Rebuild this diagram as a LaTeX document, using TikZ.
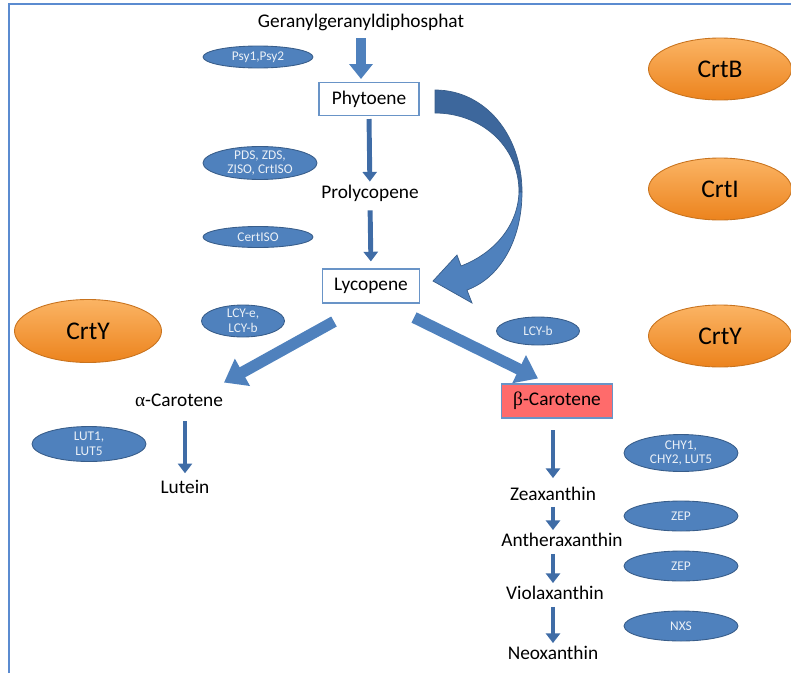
\documentclass[tikz,border=0pt]{standalone}
\usepackage{fontspec}
\setmainfont{Carlito}
\newfontfamily\greekfont{Liberation Serif}
\usetikzlibrary{shapes.geometric, arrows.meta, positioning, calc}
\definecolor{Path_Blue}{HTML}{4F81BD}
\definecolor{Path_Dark}{HTML}{385D8A}
\definecolor{Path_Back}{HTML}{3D679C}
\definecolor{Path_Arrow}{HTML}{3F6CA6}
\definecolor{Path_Frame}{HTML}{5B8BD0}
\definecolor{Path_Red}{HTML}{FF6B6B}
\definecolor{Crt_Top}{HTML}{FBB464}
\definecolor{Crt_Bottom}{HTML}{EC831D}
\definecolor{Crt_Line}{HTML}{C8731E}

\begin{document}
\begin{tikzpicture}[x=0.02cm, y=-0.02cm, >=Stealth,
    metab/.style={font=\fontsize{11}{13}\selectfont, inner sep=1pt},
    metabox/.style={metab, draw=Path_Blue!85, line width=0.6pt, minimum width=2cm, minimum height=0.66cm},
    enzyme/.style={ellipse, draw=Path_Dark, line width=0.5pt, fill=Path_Blue, text=white!88!Path_Blue, font=\fontsize{7.6}{8.4}\selectfont, align=center, inner sep=-1.5pt, minimum width=2.28cm, minimum height=0.6cm},
    crt/.style={ellipse, draw=Crt_Line, line width=0.5pt, top color=Crt_Top, bottom color=Crt_Bottom, font=\fontsize{14.5}{16}\selectfont, inner sep=0pt, minimum width=2.86cm, minimum height=1.24cm},
    thinarrow/.style={draw=Path_Arrow, line width=2.8pt, -{Triangle[width=8pt, length=5.5pt]}},
    blockarrow/.style={draw=Path_Blue, line width=6.5pt, -{Triangle[width=17pt, length=12pt]}}
]
    \useasboundingbox (0,0) rectangle (791,673);
    \draw[Path_Frame, line width=1.2pt] (9,673) -- (9,4) -- (791,4);

    % main chain
    \node (ggpp) [metab] at (361,22) {Geranylgeranyldiphosphat};
    \node (phy) [metabox] at (369,99) {Phytoene};
    \node (pro) [metab] at (370,193) {Prolycopene};
    \node (lyc) [metabox, minimum width=1.94cm, minimum height=0.68cm] at (371,286) {Lycopene};
    \node (alpha) [metab] at (179,400) {{\greekfont α}-Carotene};
    \node (lutein) [metab] at (185,487) {Lutein};
    \node (beta) [metabox, fill=Path_Red, minimum width=2.22cm, minimum height=0.68cm] at (557,401) {{\greekfont β}-Carotene};
    \node (zea) [metab] at (553,494) {Zeaxanthin};
    \node (ant) [metab] at (562,540) {Antheraxanthin};
    \node (vio) [metab] at (555,593) {Violaxanthin};
    \node (neo) [metab] at (553,653) {Neoxanthin};

    % enzymes
    \node (psy) [enzyme, minimum width=2.2cm, minimum height=0.44cm] at (258,57) {Psy1,Psy2};
    \node (pds) [enzyme, minimum height=0.66cm] at (260,163) {PDS, ZDS,\\ZISO, CrtISO};
    \node (cert) [enzyme, minimum width=2.2cm, minimum height=0.42cm] at (258,237) {CertISO};
    \node (lcye) [enzyme, minimum width=1.66cm, minimum height=0.64cm] at (243,321) {LCY-e,\\LCY-b};
    \node (lcyb) [enzyme, minimum width=1.66cm, minimum height=0.56cm] at (538,331) {LCY-b};
    \node (lut) [enzyme, minimum height=0.7cm] at (89,444) {LUT1,\\LUT5};
    \node (chy) [enzyme, minimum height=0.74cm] at (681,453) {CHY1,\\CHY2, LUT5};
    \node (zep1) [enzyme] at (681,516) {ZEP};
    \node (zep2) [enzyme] at (681,566) {ZEP};
    \node (nxs) [enzyme] at (681,626) {NXS};

    % bacterial genes
    \node (crtb) [crt] at (720,69) {CrtB};
    \node (crti) [crt] at (720,189) {CrtI};
    \node (crtyl) [crt, minimum width=2.94cm, minimum height=1.26cm] at (88,331) {CrtY};
    \node (crtyr) [crt] at (720,336) {CrtY};

    % reactions
    \draw[blockarrow, line width=5.7pt, -{Triangle[width=13pt, length=8.5pt]}, shorten <=3.4pt, shorten >=1.7pt] (ggpp) -- (ggpp |- phy.north);
    \draw[thinarrow, shorten <=1.7pt, shorten >=0.6pt] (phy.south) -- (pro);
    \draw[thinarrow, shorten <=4pt, shorten >=4pt] (pro.south) -- (lyc.north);
    \draw[blockarrow] ($(lyc.south west)+(12,18)$) -- ($(alpha.north)+(45,-9)$);
    \draw[blockarrow] ($(lyc.south east)+(-6,14)$) -- ($(beta.north)+(-19,-5)$);
    \draw[thinarrow, shorten <=7.4pt, shorten >=2.8pt] (lutein |- alpha.south) -- (lutein.north);
    \draw[thinarrow, shorten <=6.8pt, shorten >=4pt] (zea.north |- beta.south) -- (zea.north);
    \draw[thinarrow, shorten <=2.3pt, shorten >=0.6pt] (zea.south) -- (zea.south |- ant.north);
    \draw[thinarrow, shorten <=2.8pt, shorten >=0.6pt] (zea.south |- ant.south) -- (zea.south |- vio.north);
    \draw[thinarrow, shorten <=2.8pt, shorten >=0.6pt] (zea.south |- vio.south) -- (zea.south |- neo.north);

    % curved arrow Phytoene to Lycopene
    \fill[Path_Back, draw=Path_Dark, line width=0.4pt]
        (435,90) .. controls (485,90) and (522,135) .. (522,192)
        -- (519,192) .. controls (519,145) and (480,113) .. (435,113) -- cycle;
    \fill[Path_Blue, draw=Path_Dark, line width=0.4pt]
        (522,192) .. controls (522,240) and (500,278) .. (467,290)
        -- (472,303) -- (433,281) -- (457,255) -- (461,266)
        .. controls (495,253) and (518,225) .. (519,192) -- cycle;
\end{tikzpicture}
\end{document}
